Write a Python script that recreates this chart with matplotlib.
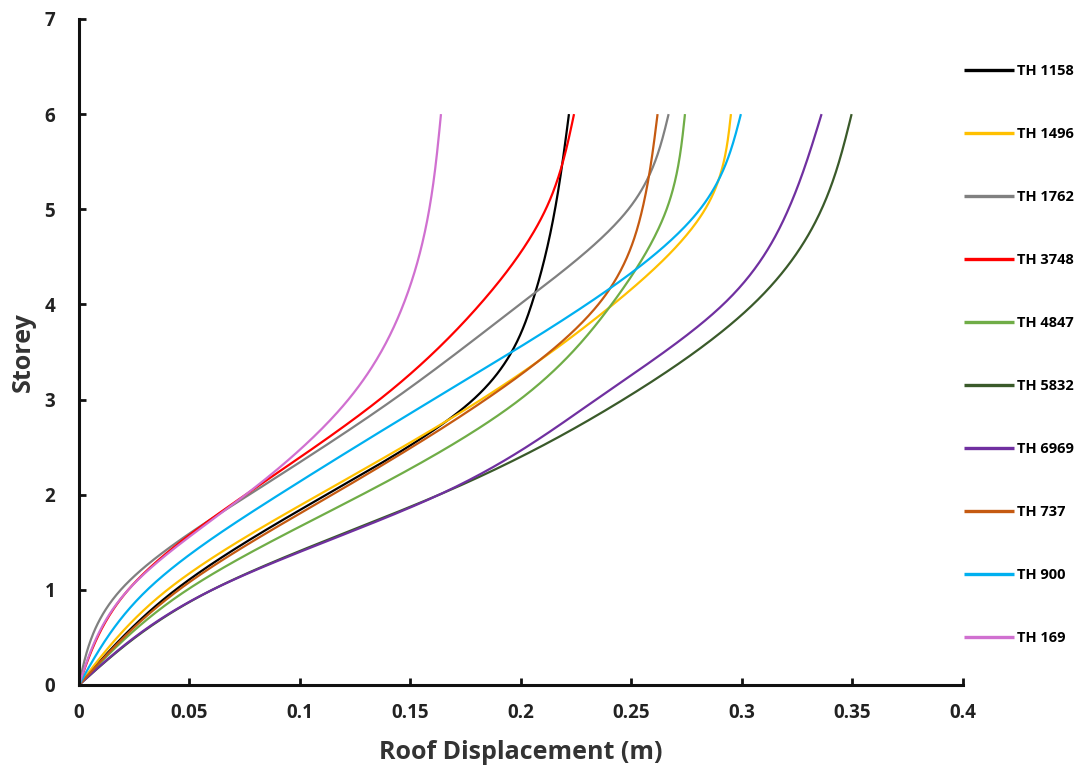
import numpy as np
import matplotlib
matplotlib.use("Agg")
import matplotlib.pyplot as plt

storeys = [0, 1, 2, 3, 4, 5, 6]

labels = ["TH 1158", "TH 1496", "TH 1762", "TH 3748", "TH 4847",
          "TH 5832", "TH 6969", "TH 737", "TH 900", "TH 169"]

th_1158 = [0, 0.0437, 0.112, 0.1784, 0.2048, 0.2154, 0.2217]
th_1496 = [0, 0.0400, 0.1086, 0.1820, 0.2417, 0.2833, 0.2950]
th_1762 = [0, 0.0189, 0.0770, 0.1423, 0.1995, 0.2486, 0.2668]
th_3748 = [0, 0.0223, 0.0754, 0.1360, 0.1814, 0.2112, 0.2240]
th_4847 = [0, 0.0490, 0.1280, 0.1995, 0.2410, 0.2659, 0.2742]
th_5832 = [0, 0.0603, 0.1630, 0.2463, 0.3050, 0.3360, 0.3496]
th_6969 = [0, 0.0603, 0.1630, 0.2340, 0.2915, 0.3210, 0.3360]
th_737 = [0, 0.0452, 0.1146, 0.1840, 0.2350, 0.2549, 0.2618]
th_900 = [0, 0.0309, 0.0905, 0.1603, 0.2297, 0.2810, 0.2995]
th_169 = [0, 0.0223, 0.0754, 0.1219, 0.1468, 0.1585, 0.1638]

series = [th_1158, th_1496, th_1762, th_3748, th_4847,
          th_5832, th_6969, th_737, th_900, th_169]

colors = ["#000000", "#FFC000", "#808080", "#FF0000", "#70AD47",
          "#3A5A2A", "#7030A0", "#C55A11", "#00B0F0", "#D070D0"]

x_ticks = [0, 0.05, 0.1, 0.15, 0.2, 0.25, 0.3, 0.35, 0.4]
x_tick_labels = ["0", "0.05", "0.1", "0.15", "0.2", "0.25", "0.3", "0.35", "0.4"]
y_ticks = [0, 1, 2, 3, 4, 5, 6, 7]


def natural_spline(knots, vals, n=60):
    """Natural cubic spline of displacement as a function of storey."""
    t = np.asarray(knots, float)
    v = np.asarray(vals, float)
    m = len(t)
    h = np.diff(t)
    A = np.zeros((m, m))
    r = np.zeros(m)
    A[0, 0] = A[-1, -1] = 1.0
    for i in range(1, m - 1):
        A[i, i - 1] = h[i - 1]
        A[i, i] = 2 * (h[i - 1] + h[i])
        A[i, i + 1] = h[i]
        r[i] = 6 * ((v[i + 1] - v[i]) / h[i] - (v[i] - v[i - 1]) / h[i - 1])
    M = np.linalg.solve(A, r)
    ys, xs = [], []
    for i in range(m - 1):
        s = np.linspace(t[i], t[i + 1], n)
        a = (t[i + 1] - s) / h[i]
        b = (s - t[i]) / h[i]
        x = (a * v[i] + b * v[i + 1]
             + ((a ** 3 - a) * M[i] + (b ** 3 - b) * M[i + 1]) * h[i] ** 2 / 6)
        if i:
            s, x = s[1:], x[1:]
        ys.append(s)
        xs.append(x)
    return np.concatenate(xs), np.concatenate(ys)


plt.rcParams["font.family"] = ["Open Sans", "DejaVu Sans"]

fig = plt.figure(figsize=(10.89, 7.74), dpi=100)
ax = fig.add_axes([0.0725, 0.115, 0.8118, 0.8605])

for vals, lab, col in zip(series, labels, colors):
    sx, sy = natural_spline(storeys, vals)
    ax.plot(sx, sy, color=col, lw=1.6, label=lab, solid_capstyle="butt")

ax.set_xlim(0, 0.4)
ax.set_ylim(0, 7)
ax.set_xticks(x_ticks)
ax.set_xticklabels(x_tick_labels)
ax.set_yticks(y_ticks)

for side in ("top", "right"):
    ax.spines[side].set_visible(False)
for side in ("left", "bottom"):
    ax.spines[side].set_linewidth(2.2)
    ax.spines[side].set_color("#111111")

ax.tick_params(axis="both", direction="in", length=5, width=2, color="#111111",
               labelsize=13.5, labelcolor="#222222")
ax.tick_params(axis="x", pad=13)
ax.tick_params(axis="y", pad=17)
for t in ax.get_xticklabels() + ax.get_yticklabels():
    t.set_fontweight("bold")

ax.set_xlabel("Roof Displacement (m)", fontsize=18, fontweight="bold",
              color="#333333", labelpad=12)
ax.set_ylabel("Storey", fontsize=18, fontweight="bold", color="#333333",
              labelpad=6)

leg = ax.legend(loc="upper left", bbox_to_anchor=(0.880, 0.9245),
                bbox_transform=fig.transFigure, frameon=False,
                fontsize=10.5, handlelength=3.45, handletextpad=0.15,
                labelspacing=3.36, borderaxespad=0)
for t in leg.get_texts():
    t.set_fontweight("bold")
for h in leg.get_lines():
    h.set_linewidth(2.4)

fig.savefig("out.png", dpi=100, facecolor="white")
